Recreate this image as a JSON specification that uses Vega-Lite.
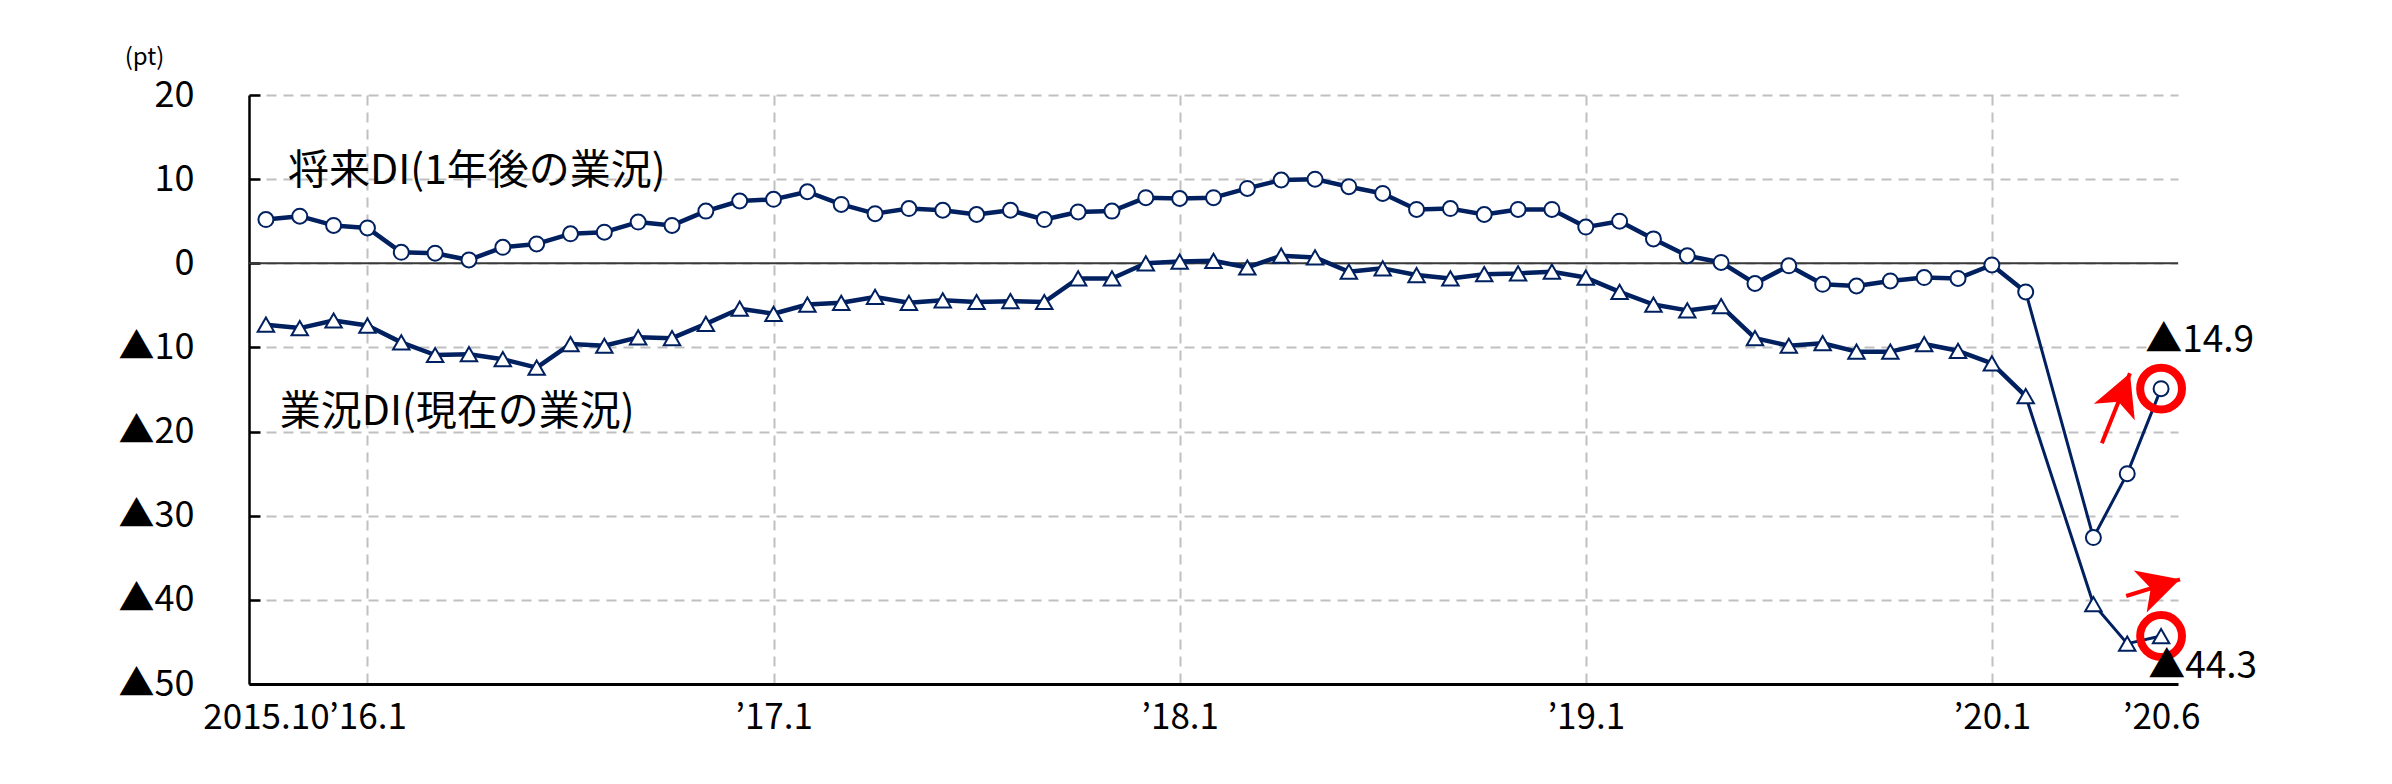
{
  "$schema": "https://vega.github.io/schema/vega-lite/v6.json",
  "width": 1929,
  "height": 589,
  "autosize": {"type": "none"},
  "padding": {"left": 249, "top": 95, "right": 214, "bottom": 100},
  "background": "white",
  "config": {"view": {"stroke": null}, "font": "Noto Sans CJK JP"},
  "datasets": {
    "di": [
      {"m":0,"s":"将来DI","v":5.2},{"m":1,"s":"将来DI","v":5.6},{"m":2,"s":"将来DI","v":4.5},{"m":3,"s":"将来DI","v":4.2},
      {"m":4,"s":"将来DI","v":1.3},{"m":5,"s":"将来DI","v":1.2},{"m":6,"s":"将来DI","v":0.4},{"m":7,"s":"将来DI","v":1.9},
      {"m":8,"s":"将来DI","v":2.3},{"m":9,"s":"将来DI","v":3.5},{"m":10,"s":"将来DI","v":3.7},{"m":11,"s":"将来DI","v":4.9},
      {"m":12,"s":"将来DI","v":4.5},{"m":13,"s":"将来DI","v":6.2},{"m":14,"s":"将来DI","v":7.4},{"m":15,"s":"将来DI","v":7.6},
      {"m":16,"s":"将来DI","v":8.5},{"m":17,"s":"将来DI","v":7.0},{"m":18,"s":"将来DI","v":5.9},{"m":19,"s":"将来DI","v":6.5},
      {"m":20,"s":"将来DI","v":6.3},{"m":21,"s":"将来DI","v":5.8},{"m":22,"s":"将来DI","v":6.3},{"m":23,"s":"将来DI","v":5.2},
      {"m":24,"s":"将来DI","v":6.1},{"m":25,"s":"将来DI","v":6.2},{"m":26,"s":"将来DI","v":7.8},{"m":27,"s":"将来DI","v":7.7},
      {"m":28,"s":"将来DI","v":7.8},{"m":29,"s":"将来DI","v":8.9},{"m":30,"s":"将来DI","v":9.9},{"m":31,"s":"将来DI","v":10.0},
      {"m":32,"s":"将来DI","v":9.1},{"m":33,"s":"将来DI","v":8.3},{"m":34,"s":"将来DI","v":6.4},{"m":35,"s":"将来DI","v":6.5},
      {"m":36,"s":"将来DI","v":5.8},{"m":37,"s":"将来DI","v":6.4},{"m":38,"s":"将来DI","v":6.4},{"m":39,"s":"将来DI","v":4.3},
      {"m":40,"s":"将来DI","v":5.0},{"m":41,"s":"将来DI","v":2.9},{"m":42,"s":"将来DI","v":0.9},{"m":43,"s":"将来DI","v":0.1},
      {"m":44,"s":"将来DI","v":-2.4},{"m":45,"s":"将来DI","v":-0.3},{"m":46,"s":"将来DI","v":-2.5},{"m":47,"s":"将来DI","v":-2.7},
      {"m":48,"s":"将来DI","v":-2.1},{"m":49,"s":"将来DI","v":-1.7},{"m":50,"s":"将来DI","v":-1.8},{"m":51,"s":"将来DI","v":-0.2},
      {"m":52,"s":"将来DI","v":-3.4},{"m":54,"s":"将来DI","v":-32.6},{"m":55,"s":"将来DI","v":-25.0},{"m":56,"s":"将来DI","v":-14.9},
      {"m":0,"s":"業況DI","v":-7.3},{"m":1,"s":"業況DI","v":-7.7},{"m":2,"s":"業況DI","v":-6.8},{"m":3,"s":"業況DI","v":-7.4},
      {"m":4,"s":"業況DI","v":-9.4},{"m":5,"s":"業況DI","v":-10.9},{"m":6,"s":"業況DI","v":-10.8},{"m":7,"s":"業況DI","v":-11.4},
      {"m":8,"s":"業況DI","v":-12.4},{"m":9,"s":"業況DI","v":-9.6},{"m":10,"s":"業況DI","v":-9.8},{"m":11,"s":"業況DI","v":-8.8},
      {"m":12,"s":"業況DI","v":-8.9},{"m":13,"s":"業況DI","v":-7.2},{"m":14,"s":"業況DI","v":-5.4},{"m":15,"s":"業況DI","v":-6.0},
      {"m":16,"s":"業況DI","v":-4.9},{"m":17,"s":"業況DI","v":-4.7},{"m":18,"s":"業況DI","v":-4.0},{"m":19,"s":"業況DI","v":-4.7},
      {"m":20,"s":"業況DI","v":-4.4},{"m":21,"s":"業況DI","v":-4.6},{"m":22,"s":"業況DI","v":-4.5},{"m":23,"s":"業況DI","v":-4.6},
      {"m":24,"s":"業況DI","v":-1.8},{"m":25,"s":"業況DI","v":-1.8},{"m":26,"s":"業況DI","v":0.0},{"m":27,"s":"業況DI","v":0.2},
      {"m":28,"s":"業況DI","v":0.3},{"m":29,"s":"業況DI","v":-0.5},{"m":30,"s":"業況DI","v":0.9},{"m":31,"s":"業況DI","v":0.7},
      {"m":32,"s":"業況DI","v":-1.0},{"m":33,"s":"業況DI","v":-0.6},{"m":34,"s":"業況DI","v":-1.4},{"m":35,"s":"業況DI","v":-1.8},
      {"m":36,"s":"業況DI","v":-1.3},{"m":37,"s":"業況DI","v":-1.2},{"m":38,"s":"業況DI","v":-1.0},{"m":39,"s":"業況DI","v":-1.7},
      {"m":40,"s":"業況DI","v":-3.4},{"m":41,"s":"業況DI","v":-4.9},{"m":42,"s":"業況DI","v":-5.6},{"m":43,"s":"業況DI","v":-5.1},
      {"m":44,"s":"業況DI","v":-8.9},{"m":45,"s":"業況DI","v":-9.8},{"m":46,"s":"業況DI","v":-9.5},{"m":47,"s":"業況DI","v":-10.5},
      {"m":48,"s":"業況DI","v":-10.5},{"m":49,"s":"業況DI","v":-9.6},{"m":50,"s":"業況DI","v":-10.4},{"m":51,"s":"業況DI","v":-11.9},
      {"m":52,"s":"業況DI","v":-15.8},{"m":54,"s":"業況DI","v":-40.5},{"m":55,"s":"業況DI","v":-45.2},{"m":56,"s":"業況DI","v":-44.3}
    ],
    "names": [
      {"m": 0.65, "v": 10.85, "t": "将来DI(1年後の業況)"},
      {"m": 0.41, "v": -17.8, "t": "業況DI(現在の業況)"}
    ],
    "values": [
      {"m": 55.53, "v": -9.24, "t": "▲14.9"},
      {"m": 55.62, "v": -47.98, "t": "▲44.3"}
    ],
    "arrows": [
      {"a": 1, "m": 54.25, "v": -21.4, "m2": 55.08, "v2": -13.08},
      {"a": 2, "m": 54.97, "v": -39.54, "m2": 56.56, "v2": -37.56}
    ]
  },
  "data": {"name": "di"},
  "layer": [
    {
      "data": {"values": [{}]},
      "mark": {"type": "rule", "color": "#3a3a3a", "strokeWidth": 2},
      "encoding": {"y": {"datum": 0, "type": "quantitative"}}
    },
    {
      "transform": [{"filter": "datum.m <= 52"}],
      "mark": {"type": "line", "color": "#002060", "strokeWidth": 4.5, "strokeJoin": "round"},
      "encoding": {
        "x": {
          "field": "m", "type": "quantitative",
          "scale": {"domain": [-0.5, 56.5], "nice": false, "zero": false},
          "axis": {
            "values": [0, 3, 15, 27, 39, 51, 56],
            "labelExpr": "datum.value == 0 ? '2015.10' : datum.value == 56 ? '’20.6' : '’' + (16 + (datum.value - 3) / 12) + '.1'",
            "title": null,
            "ticks": false,
            "grid": true,
            "gridColor": {"condition": {"test": "datum.value == 0 || datum.value == 56", "value": "transparent"}, "value": "#c0c0c0"},
            "gridDash": [10, 7],
            "gridWidth": 2,
            "domainColor": "#000000",
            "domainWidth": 3,
            "labelFont": "Noto Sans CJK JP",
            "labelFontSize": 35,
            "labelColor": "#000000",
            "labelPadding": 16,
            "labelFlush": false,
            "labelOverlap": false
          }
        },
        "y": {
          "field": "v", "type": "quantitative",
          "scale": {"domain": [-50, 20], "nice": false, "zero": false},
          "axis": {
            "values": [20, 10, 0, -10, -20, -30, -40, -50],
            "labelExpr": "datum.value < 0 ? '▲' + abs(datum.value) : '' + datum.value",
            "grid": true,
            "gridColor": {"condition": {"test": "datum.value == -50", "value": "transparent"}, "value": "#c0c0c0"},
            "gridDash": [10, 7],
            "gridWidth": 2,
            "domainColor": "#000000",
            "domainWidth": 2.5,
            "tickColor": "#000000",
            "tickWidth": 2.5,
            "tickSize": -11,
            "labelFont": "Noto Sans CJK JP",
            "labelFontSize": 36,
            "labelColor": "#000000",
            "labelPadding": 66,
            "title": "(pt)",
            "titleAngle": 0,
            "titleX": -105,
            "titleY": -38,
            "titleAlign": "center",
            "titleBaseline": "middle",
            "titleFont": "Noto Sans CJK JP",
            "titleFontSize": 24,
            "titleFontWeight": "normal",
            "titleColor": "#000000"
          }
        },
        "detail": {"field": "s", "type": "nominal"}
      }
    },
    {
      "transform": [{"filter": "datum.m >= 52"}],
      "mark": {"type": "line", "color": "#002060", "strokeWidth": 3, "strokeJoin": "round"},
      "encoding": {
        "x": {"field": "m", "type": "quantitative"},
        "y": {"field": "v", "type": "quantitative"},
        "detail": {"field": "s", "type": "nominal"}
      }
    },
    {
      "mark": {"type": "point", "filled": true, "fill": "white", "stroke": "#002060", "strokeWidth": 2, "opacity": 1},
      "encoding": {
        "x": {"field": "m", "type": "quantitative"},
        "y": {"field": "v", "type": "quantitative"},
        "shape": {"field": "s", "type": "nominal", "scale": {"domain": ["将来DI", "業況DI"], "range": ["circle", "triangle-up"]}, "legend": null},
        "size": {"field": "s", "type": "nominal", "scale": {"domain": ["将来DI", "業況DI"], "range": [225, 270]}, "legend": null}
      }
    },
    {
      "data": {"name": "names"},
      "mark": {"type": "text", "align": "left", "baseline": "middle", "font": "Noto Sans CJK JP", "fontSize": 41, "color": "#000000"},
      "encoding": {
        "x": {"field": "m", "type": "quantitative"},
        "y": {"field": "v", "type": "quantitative"},
        "text": {"field": "t"}
      }
    },
    {
      "transform": [{"filter": "datum.m == 56"}],
      "mark": {"type": "point", "shape": "circle", "filled": false, "stroke": "#ff0000", "strokeWidth": 8, "size": 1750, "opacity": 1},
      "encoding": {
        "x": {"field": "m", "type": "quantitative"},
        "y": {"field": "v", "type": "quantitative"}
      }
    },
    {
      "data": {"name": "arrows"},
      "mark": {"type": "rule", "color": "#ff0000", "strokeWidth": 4},
      "encoding": {
        "x": {"field": "m", "type": "quantitative"},
        "y": {"field": "v", "type": "quantitative"},
        "x2": {"field": "m2"},
        "y2": {"field": "v2"}
      }
    },
    {
      "data": {"name": "arrows"},
      "transform": [{"filter": "datum.a == 1"}],
      "mark": {"type": "point", "shape": "M0,0 L1.8,3.4 L0,2.5 L-1.8,3.4 Z", "filled": true, "color": "#ff0000", "size": 600, "angle": 22, "opacity": 1},
      "encoding": {
        "x": {"field": "m2", "type": "quantitative"},
        "y": {"field": "v2", "type": "quantitative"}
      }
    },
    {
      "data": {"name": "arrows"},
      "transform": [{"filter": "datum.a == 2"}],
      "mark": {"type": "point", "shape": "M0,0 L1.8,3.4 L0,2.5 L-1.8,3.4 Z", "filled": true, "color": "#ff0000", "size": 600, "angle": 73, "opacity": 1},
      "encoding": {
        "x": {"field": "m2", "type": "quantitative"},
        "y": {"field": "v2", "type": "quantitative"}
      }
    },
    {
      "data": {"name": "values"},
      "mark": {"type": "text", "align": "left", "baseline": "middle", "font": "Noto Sans CJK JP", "fontSize": 37, "color": "#000000"},
      "encoding": {
        "x": {"field": "m", "type": "quantitative"},
        "y": {"field": "v", "type": "quantitative"},
        "text": {"field": "t"}
      }
    }
  ]
}
